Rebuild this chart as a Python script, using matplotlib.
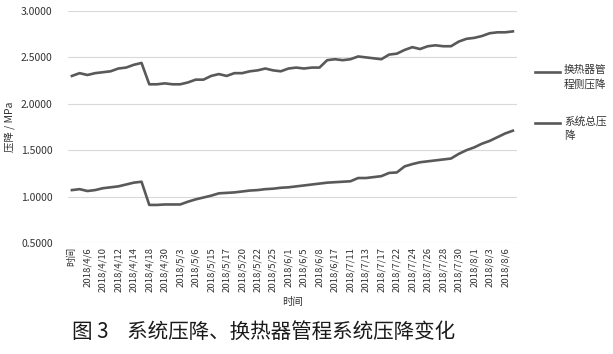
import matplotlib
matplotlib.use("Agg")
import matplotlib.pyplot as plt
from matplotlib.lines import Line2D

plt.rcParams['font.family'] = ['Noto Sans CJK SC', 'DejaVu Sans']

# libellés affichés (un sur deux, comme dans Excel)
tick_labels = ['时间', '2018/4/6', '2018/4/10', '2018/4/12', '2018/4/14', '2018/4/18',
               '2018/4/30', '2018/5/3', '2018/5/6', '2018/5/15', '2018/5/17', '2018/5/20',
               '2018/5/22', '2018/5/25', '2018/6/1', '2018/6/5', '2018/6/8', '2018/6/17',
               '2018/7/11', '2018/7/13', '2018/7/17', '2018/7/22', '2018/7/24', '2018/7/26',
               '2018/7/28', '2018/7/30', '2018/8/1', '2018/8/3', '2018/8/6']

# 换热器管程侧压降 (MPa)
tube_side = [2.30, 2.33, 2.31, 2.33, 2.34, 2.35, 2.38, 2.39, 2.42, 2.44,
             2.21, 2.21, 2.22, 2.21, 2.21, 2.23, 2.26, 2.26, 2.30, 2.32,
             2.30, 2.33, 2.33, 2.35, 2.36, 2.38, 2.36, 2.35, 2.38, 2.39,
             2.38, 2.39, 2.39, 2.47, 2.48, 2.47, 2.48, 2.51, 2.50, 2.49,
             2.48, 2.53, 2.54, 2.58, 2.61, 2.59, 2.62, 2.63, 2.62, 2.62,
             2.67, 2.70, 2.71, 2.73, 2.76, 2.77, 2.77, 2.78]

# 系统总压降 (MPa)
system_total = [1.07, 1.08, 1.06, 1.07, 1.09, 1.10, 1.11, 1.13, 1.15, 1.16,
                0.91, 0.91, 0.915, 0.915, 0.915, 0.945, 0.97, 0.99, 1.01, 1.035,
                1.04, 1.045, 1.055, 1.065, 1.07, 1.08, 1.085, 1.095, 1.10, 1.11,
                1.12, 1.13, 1.14, 1.15, 1.155, 1.16, 1.165, 1.20, 1.20, 1.21,
                1.22, 1.255, 1.26, 1.325, 1.35, 1.37, 1.38, 1.39, 1.40, 1.41,
                1.46, 1.50, 1.53, 1.57, 1.60, 1.64, 1.68, 1.71]

yticks = [0.5, 1.0, 1.5, 2.0, 2.5, 3.0]

fig = plt.figure(figsize=(6.13, 3.54), dpi=100)
ax = fig.add_axes([0.111, 0.3136, 0.732, 0.6554])

x = list(range(len(tube_side)))
col = '#595959'
ax.plot(x, tube_side, color=col, lw=1.9, solid_joinstyle='round')
ax.plot(x, system_total, color=col, lw=1.9, solid_joinstyle='round')

ax.set_xlim(-0.5, len(x) - 0.5)
ax.set_ylim(0.5, 3.0)
ax.set_yticks(yticks)
ax.set_yticklabels(['%.4f' % v for v in yticks], fontsize=7.5, color='#333333')
ax.set_xticks(list(range(0, len(x), 2)))
ax.set_xticklabels(tick_labels, rotation=90, fontsize=6.9, color='#333333')
ax.tick_params(length=0)
ax.tick_params(axis='x', pad=3)
ax.tick_params(axis='y', pad=11)
ax.grid(axis='y', color='#d9d9d9', lw=0.8)
ax.set_axisbelow(True)
for s in ax.spines.values():
    s.set_visible(False)

ax.set_ylabel('压降 / MPa', fontsize=7.5, color='#333333', labelpad=4)
ax.set_xlabel('时间', fontsize=7.5, color='#333333', labelpad=3)

# légende à droite
W, H = 613, 354
for y_line, lab in [(72, '换热器管\n程侧压降'), (123, '系统总压\n降')]:
    fig.add_artist(Line2D([535 / W, 560 / W], [1 - y_line / H, 1 - y_line / H],
                          color=col, lw=1.9))
    fig.text(564 / W, 1 - (y_line - 7) / H, lab, fontsize=7.7, color='#333333',
             va='top', ha='left', linespacing=1.5)

fig.text(264 / W, 1 - 332 / H, '图 3    系统压降、换热器管程系统压降变化',
         fontsize=14.8, ha='center', va='center', color='#1a1a1a')

fig.savefig('out.png', dpi=100)
